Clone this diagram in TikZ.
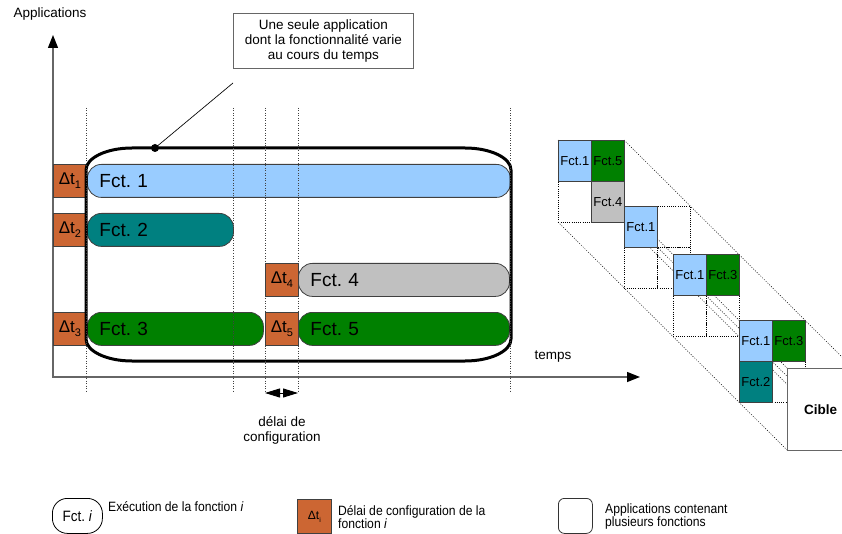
\documentclass[tikz,border=0pt]{standalone}
\usepackage{fontspec}
\setmainfont{Liberation Sans}
\newfontfamily\narrowfont{Liberation Sans}[FakeStretch=0.9]
\usetikzlibrary{arrows.meta,calc}
\definecolor{fblue}{HTML}{99CCFF}
\definecolor{fteal}{HTML}{008080}
\definecolor{fgreen}{HTML}{008000}
\definecolor{fgrey}{HTML}{C0C0C0}
\definecolor{dorange}{HTML}{CC6633}
\definecolor{edgec}{HTML}{404040}
\newcommand\dtlab[1]{{\fontsize{17}{17}\selectfont Δt}\raisebox{-4pt}{\fontsize{11}{11}\selectfont #1}}
\frenchspacing
\begin{document}
\begin{tikzpicture}[x=1pt,y=-1pt,
 fbar/.style={draw=edgec, line width=0.8pt, rounded corners=14pt, anchor=north west, minimum height=33pt, inner xsep=12pt, inner ysep=0pt, align=left, font=\fontsize{19}{19}\selectfont},
 dbox/.style={draw=edgec, line width=0.8pt, fill=dorange, anchor=north west, minimum width=33pt, minimum height=33pt, inner sep=0pt},
 cell/.style={draw=edgec, line width=0.8pt, anchor=north west, minimum width=33pt, minimum height=41pt, inner sep=0pt, font=\fontsize{13}{13}\selectfont},
 ecell/.style={draw=black, line width=0.6pt, dash pattern=on 1pt off 1.2pt, anchor=north west, minimum width=33pt, minimum height=41pt, inner sep=0pt},
 vdot/.style={draw=black!75, line width=0.7pt, dash pattern=on 1pt off 1.5pt},
 diag/.style={draw=black, line width=0.5pt, dash pattern=on 1pt off 1.5pt},
 lbl/.style={font=\fontsize{13.5}{15}\selectfont, align=center, inner sep=0pt},
 leg/.style={font=\narrowfont\fontsize{13.5}{13}\selectfont, align=left, inner sep=0pt, anchor=west},
 axis/.style={draw=black!60, line width=1.4pt},
]
\useasboundingbox (0,0) rectangle (842,534);
\clip (0,0) rectangle (842,534);

% axes
\coordinate (ytip) at (53,35);
\coordinate (orig) at (53,377);
\coordinate (xtip) at (640,377);
\draw[axis, {Triangle[length=13pt,width=10pt,color=black]}-{Triangle[length=13pt,width=10pt,color=black]}] (ytip) -- (orig) -- (xtip);
\node[lbl] (apps) at (50,14) {Applications};
\node[lbl] (temps) at (553,357) {temps};

% function bars
\node[fbar, fill=fblue, text width=399pt] (f1) at (87,164) {Fct. 1};
\node[fbar, fill=fteal, text width=122pt] (f2) at (87,213) {Fct. 2};
\node[fbar, fill=fgreen, text width=152pt] (f3) at (87,312) {Fct. 3};
\node[fbar, fill=fgrey, text width=187pt] (f4) at (298,263) {Fct. 4};
\node[fbar, fill=fgreen, text width=187pt] (f5) at (298,312) {Fct. 5};

% configuration delays
\node[dbox] (dt1) at (53,164) {\dtlab{1}};
\node[dbox] (dt2) at (53,213) {\dtlab{2}};
\node[dbox] (dt3) at (53,312) {\dtlab{3}};
\node[dbox] (dt4) at (265,263) {\dtlab{4}};
\node[dbox] (dt5) at (265,312) {\dtlab{5}};

% big application outline
\draw[line width=3pt, black] (132,148) -- (465,148) .. controls (490.4,148) and (511,157.8) .. (511,170) -- (511,339) .. controls (511,351.2) and (490.4,361) .. (465,361) -- (132,361) .. controls (106.6,361) and (86,351.2) .. (86,339) -- (86,170) .. controls (86,157.8) and (106.6,148) .. cycle;

% dotted time marks
\foreach \xx [count=\i] in {86,233,265,298,510} {
  \coordinate (vt\i) at (\xx,108);
  \coordinate (vb\i) at (\xx,392);
  \draw[vdot] (vt\i) -- (vb\i);
}

% configuration delay arrow
\coordinate (da) at (265,393);
\coordinate (db) at (298,393);
\draw[line width=1pt, {Triangle[length=15pt,width=9pt]}-{Triangle[length=15pt,width=9pt]}] (da) -- (db);
\node[lbl] (delai) at (282,430) {délai de\\configuration};

% callout
\node[draw=black!60, line width=0.8pt, fill=white, minimum width=180pt, minimum height=55pt, anchor=north west, lbl] (call) at (233,13) {Une seule application\\dont la fonctionnalité varie\\au cours du temps};
\coordinate (cp) at (233,83);
\node[circle, fill=black, inner sep=0pt, minimum size=8pt] (dot) at (155,148) {};
\draw[line width=0.7pt] (cp) -- (dot.center);

% perspective lines
\foreach \dx/\dy [count=\i] in {66/0, 0/82, 0/0, 33/41, 66/82} {
  \coordinate (ps\i) at (558+\dx,140+\dy);
  \coordinate (pe\i) at (787+\dx,368+\dy);
  \draw[diag] (ps\i) -- (pe\i);
}

% block 1
\node[ecell] (b1e) at (558,181) {};
\node[cell, fill=fblue] (b1a) at (558,140) {Fct.1};
\node[cell, fill=fgreen] (b1b) at (591,140) {Fct.5};
\node[cell, fill=fgrey] (b1c) at (591,181) {Fct.4};
% block 2
\node[ecell] (b2e1) at (657,206) {};
\node[ecell] (b2e2) at (624,247) {};
\node[ecell] (b2e3) at (657,247) {};
\node[cell, fill=fblue] (b2a) at (624,206) {Fct.1};
% block 3
\node[ecell] (b3e1) at (673,295) {};
\node[ecell] (b3e2) at (706,295) {};
\node[cell, fill=fblue] (b3a) at (673,254) {Fct.1};
\node[cell, fill=fgreen] (b3b) at (706,254) {Fct.3};
% block 4
\node[ecell] (b4e) at (772,361) {};
\node[cell, fill=fblue] (b4a) at (739,320) {Fct.1};
\node[cell, fill=fgreen] (b4b) at (772,320) {Fct.3};
\node[cell, fill=fteal] (b4c) at (739,361) {Fct.2};
% target
\node[draw=black!60, line width=1pt, fill=white, anchor=north west, minimum width=66pt, minimum height=82pt, inner sep=0pt, font=\bfseries\fontsize{13.5}{13.5}\selectfont] (cible) at (787,368) {Cible};

% legend
\node[draw=black, line width=0.8pt, rounded corners=15pt, anchor=north west, minimum width=50pt, minimum height=35pt, inner sep=0pt, font=\narrowfont\fontsize{15}{15}\selectfont] (lg1) at (52,498) {Fct. \textit{i}};
\node[leg] (lt1) at (108,507) {Exécution de la fonction \textit{i}};
\node[dbox, minimum width=34pt, minimum height=34pt] (lg2) at (297,499) {{\fontsize{12}{12}\selectfont Δt}\raisebox{-3pt}{\fontsize{7}{7}\selectfont i}};
\node[leg] (lt2) at (338,517) {Délai de configuration de la\\fonction \textit{i}};
\node[draw=black!80, line width=0.8pt, rounded corners=6pt, anchor=north west, minimum width=34pt, minimum height=35pt, inner sep=0pt] (lg3) at (558,498) {};
\node[leg] (lt3) at (605,517) {Applications contenant\\plusieurs fonctions};
\end{tikzpicture}
\end{document}
